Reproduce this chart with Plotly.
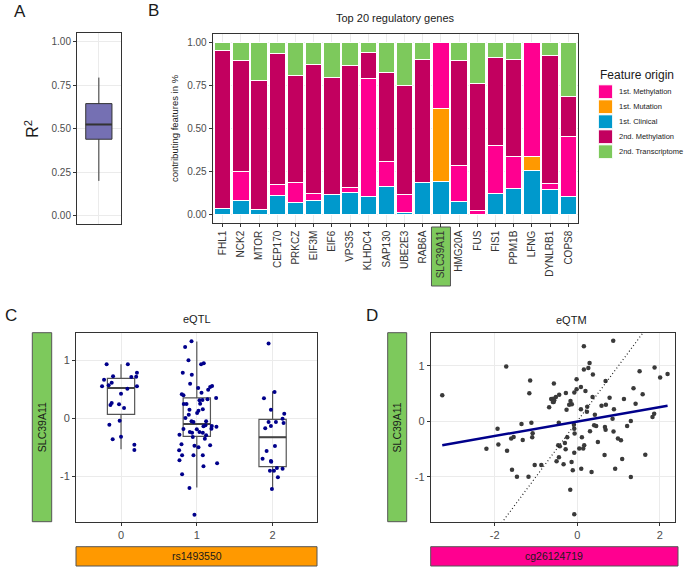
import plotly.graph_objects as go

FONT = "Liberation Sans, Arial, sans-serif"
W, H = 685, 569

# ---------------- Panel A data ----------------
r2_q1 = [0.44]
r2_median = [0.525]
r2_q3 = [0.645]
r2_lowerfence = [0.20]
r2_upperfence = [0.795]
r2_ticks = [0, 0.25, 0.5, 0.75, 1.0]
r2_ticklabels = ["0.00", "0.25", "0.50", "0.75", "1.00"]

# ---------------- Panel B data ----------------
genes = ["FHL1", "NCK2", "MTOR", "CEP170", "PRKCZ", "EIF3M", "EIF6", "VPS35", "KLHDC4", "SAP130",
         "UBE2E3", "RAB6A", "SLC39A11", "HMG20A", "FUS", "FIS1", "PPM1B", "LFNG", "DYNLRB1", "COPS8"]
clinical_1st = [0.035, 0.083, 0.029, 0.114, 0.070, 0.083, 0.116, 0.130, 0.110, 0.168,
                0.012, 0.186, 0.197, 0.081, 0.000, 0.124, 0.151, 0.261, 0.147, 0.108]
mutation_1st = [0, 0, 0, 0, 0, 0, 0, 0, 0, 0,
                0, 0, 0.422, 0, 0, 0, 0, 0.079, 0, 0]
methylation_1st = [0.000, 0.172, 0.000, 0.064, 0.120, 0.043, 0.000, 0.030, 0.683, 0.140,
                   0.104, 0.000, 0.381, 0.205, 0.025, 0.282, 0.187, 0.660, 0.035, 0.347]
methylation_2nd = [0.922, 0.642, 0.749, 0.758, 0.618, 0.746, 0.684, 0.710, 0.151, 0.522,
                   0.636, 0.719, 0.000, 0.611, 0.739, 0.511, 0.567, 0.000, 0.746, 0.235]
transcriptome_2nd = [0.043, 0.103, 0.222, 0.064, 0.192, 0.128, 0.200, 0.130, 0.056, 0.170,
                     0.248, 0.095, 0.000, 0.103, 0.236, 0.083, 0.095, 0.000, 0.072, 0.310]
highlight_gene = "SLC39A11"
legend_order = ["1st. Methylation", "1st. Mutation", "1st. Clinical", "2nd. Methylation", "2nd. Transcriptome"]

# ---------------- Panel C data (eQTL) ----------------
c_x = [-0.19, 0.09, 0.21, -0.105, 0.136, 0.20, -0.224, -0.123, -0.163, -0.25, 0.21, 0.084, 0.0,
       -0.123, -0.14, -0.026, 0.04, -0.018, -0.154, 0.0, -0.11, 0.176, 0.176,
       0.93, 0.846, 0.89, 0.815, 0.934, 0.912, 0.802, 0.824, 0.828, 0.864, 0.903, 0.894, 0.85,
       0.93, 0.956, 0.824, 0.908, 0.938, 0.771, 0.947, 0.798, 0.969, 0.767, 0.806, 0.956, 0.771,
       0.806, 0.903, 0.969,
       1.057, 1.092, 1.018, 1.062, 1.202, 1.176, 1.15, 1.255, 1.141, 1.035, 1.075, 1.044, 1.079,
       1.022, 1.004, 1.123, 1.088, 1.114, 1.198, 1.193, 1.259, 1.0, 1.035, 1.079, 1.123, 1.106,
       1.176, 1.022, 1.079, 1.088, 1.268,
       1.947, 2.026, 1.886, 1.978, 2.154, 2.132, 2.145, 1.947, 2.044, 1.978, 1.903, 2.031, 1.921,
       1.868, 1.978, 1.982, 2.057, 2.132, 1.965, 2.018, 2.07, 1.991]
c_y = [0.936, 0.936, 0.79, 0.728, 0.717, 0.72, 0.67, 0.618, 0.572, 0.555, 0.555, 0.514, 0.428,
       0.266, 0.231, 0.243, 0.179, -0.04, -0.11, -0.32, -0.364, -0.46, -0.55,
       1.335, 1.237, 1.006, 0.792, 0.757, 0.601, 0.416, 0.399, 0.249, 0.249, 0.150, 0.064, 0.006,
       -0.052, -0.064, -0.185, -0.237, -0.249, -0.283, -0.324, -0.451, -0.474, -0.555, -0.642,
       -0.642, -0.728, -0.971, -1.208, -1.671,
       0.936, 0.954, 0.526, 0.445, 0.561, 0.543, 0.497, 0.353, 0.329, 0.312, 0.318, 0.254, 0.156,
       0.133, 0.092, -0.052, -0.139, -0.121, -0.133, -0.179, -0.145, -0.191, -0.237, -0.249,
       -0.295, -0.353, -0.468, -0.503, -0.642, -0.832, -0.78,
       1.295, 0.457, 0.347, 0.150, 0.081, -0.006, -0.081, -0.064, -0.064, -0.133, -0.173, -0.48,
       -0.566, -0.699, -0.74, -0.751, -0.861, -0.873, -0.908, -0.908, -1.023, -1.225]
c_groups = [0, 1, 2]
c_q1 = [0.069, -0.312, -0.838]
c_median = [0.526, -0.098, -0.330]
c_q3 = [0.694, 0.353, -0.017]
c_lowerfence = [-0.538, -1.20, -1.228]
c_upperfence = [0.936, 1.33, 0.468]
c_xticks = [0, 1, 2]
c_xticklabels = ["0", "1", "2"]
c_yticks = [-1, 0, 1]
c_yticklabels = ["-1", "0", "1"]

# ---------------- Panel D data (eQTM) ----------------
d_x = [-3.27, -1.72, -1.14, -1.16, -0.565, -0.63, -0.57, -0.68, -1.93, -1.35, -1.11, -1.08, -1.09,
       -1.32, -1.60, -1.54, -2.2, -1.91, -1.70, -1.58, -1.46, -1.18, -1.03, -0.87,
       0.873, 0.162, 0.300, 0.27, 0.162, 0.38, 1.512, 1.875, 2.19, 2.01, -0.015, 0.688, 0.09,
       -0.015, -0.07, 0.2, -0.274, -0.436, -0.516, -0.58, -0.557, -0.589, -0.162, -0.194, -0.13,
       -0.258, 0.09, 0.243, 0.235, 0.372, 0.428, 0.785, 1.133, 1.364, 1.586, 1.415, 0.59, 0.695,
       0.89, 0.857, 1.3, 1.21, 1.865, 1.825, -0.446, -0.08, -0.071, -0.063, 0.114, 0.31, 0.41,
       0.46, 0.672, 0.688, 0.88, 0.987, 1.06, 0.501, -0.241, -0.298, -0.46, -0.28, -0.42, 0.17,
       0.146, 0.05, -0.071, -0.443, -0.5, -0.33, -0.136, -0.107, 0.098, 0.348, 0.663, 1.09, 1.65,
       0.92, 1.3, -0.168, -0.071]
d_y = [0.468, 0.985, 0.733, 0.505, 0.679, 0.402, 0.348, 0.252, -0.132, -0.048, -0.024, -0.216,
       -0.288, -0.336, -0.312, -0.282, -0.493, -0.42, -0.529, -0.871, -0.997, -0.997, -0.787,
       -0.787,
       1.453, 1.351, 1.051, 0.961, 0.931, 0.841, 0.901, 0.967, 0.853, 0.787, 0.757, 0.727, 0.619,
       0.577, 0.517, 0.547, 0.511, 0.48, 0.438, 0.408, 0.378, 0.348, 0.366, 0.300, 0.306, 0.210,
       0.216, 0.264, 0.174, 0.438, 0.12, 0.426, 0.402, 0.595, 0.486, 0.318, 0.282, 0.300, 0.216,
       0.048, 0.006, -0.084, 0.138, 0.078, -0.024, -0.06, -0.132, -0.222, -0.288, -0.18, -0.072,
       -0.084, -0.102, -0.15, -0.186, -0.312, -0.342, -0.372, -0.288, -0.39, -0.432, -0.505,
       -0.45, -0.432, -0.492, -0.492, -0.565, -0.649, -0.721, -0.775, -0.733, -0.883, -0.853,
       -0.913, -0.607, -0.679, -0.601, -0.853, -1.003, -1.231, -1.676]
d_fit_intercept = -0.005
d_fit_slope = 0.13
d_xrange = [-3.55, 2.37]
d_yrange = [-1.814, 1.596]
d_xticks = [-2, 0, 2]
d_xticklabels = ["-2", "0", "2"]
d_yticks = [-1, 0, 1]
d_yticklabels = ["-1", "0", "1"]

# ---------------- colours ----------------
COL_METH1 = "#FF0090"
COL_MUT = "#FF9900"
COL_CLIN = "#0099CC"
COL_METH2 = "#C2005F"
COL_TRANS = "#7DC95C"
TXT = "#1A1A1A"

# ---------------- layout geometry (pixels -> paper) ----------------
def PX(x):
    return x / W

def PY(y):
    return 1 - y / H

def px_x(a, b):
    return [PX(a), PX(b)]

def px_y(top, bottom):
    return [PY(bottom), PY(top)]

domA = (px_x(77, 120.7), px_y(33.3, 224.3))
domB = (px_x(212.7, 578.3), px_y(34.3, 222.7))
domC = (px_x(76, 317), px_y(332.7, 522))
domD = (px_x(430.7, 675), px_y(332.7, 522))

fig = go.Figure()

# Panel A box
fig.add_trace(go.Box(x=[0], q1=r2_q1, median=r2_median, q3=r2_q3,
                     lowerfence=r2_lowerfence, upperfence=r2_upperfence,
                     width=0.72, whiskerwidth=0, boxpoints=False,
                     fillcolor="#7570B3", line=dict(color="#333333", width=1),
                     xaxis="x", yaxis="y", showlegend=False, hoverinfo="skip"))
fig.add_trace(go.Scatter(x=[-0.36, 0.36], y=[r2_median[0]] * 2, mode="lines",
                         line=dict(color="#333333", width=2), xaxis="x", yaxis="y",
                         showlegend=False, hoverinfo="skip"))

# Panel B stacked bars (bottom to top)
series = [
    ("1st. Clinical", clinical_1st, COL_CLIN),
    ("1st. Mutation", mutation_1st, COL_MUT),
    ("1st. Methylation", methylation_1st, COL_METH1),
    ("2nd. Methylation", methylation_2nd, COL_METH2),
    ("2nd. Transcriptome", transcriptome_2nd, COL_TRANS),
]
for name, vals, col in series:
    fig.add_trace(go.Bar(x=genes, y=vals, name=name,
                         marker=dict(color=col, line=dict(color="white", width=1)),
                         xaxis="x2", yaxis="y2", showlegend=False))

# Panel C boxes + points
bw = 0.36
for g, q1, md, q3, lf, uf in zip(c_groups, c_q1, c_median, c_q3, c_lowerfence, c_upperfence):
    fig.add_trace(go.Box(x=[g], q1=[q1], median=[md], q3=[q3], lowerfence=[lf], upperfence=[uf],
                         width=bw, whiskerwidth=0, boxpoints=False, fillcolor="rgba(255,255,255,0)",
                         line=dict(color="#555555", width=1.2), xaxis="x3", yaxis="y3",
                         showlegend=False, hoverinfo="skip"))
    fig.add_trace(go.Scatter(x=[g - bw / 2, g + bw / 2], y=[md, md], mode="lines",
                             line=dict(color="#444444", width=2), xaxis="x3", yaxis="y3",
                             showlegend=False, hoverinfo="skip"))
fig.add_trace(go.Scatter(x=c_x, y=c_y, mode="markers", marker=dict(color="#00008B", size=4),
                         xaxis="x3", yaxis="y3", showlegend=False))

# Panel D scatter + fit + identity line
fig.add_trace(go.Scatter(x=d_x, y=d_y, mode="markers", marker=dict(color="#3A3A3A", size=4.5),
                         xaxis="x4", yaxis="y4", showlegend=False))
fig.add_trace(go.Scatter(x=d_xrange, y=d_xrange, mode="lines",
                         line=dict(color="#222222", width=1.2, dash="1px,2.5px"),
                         xaxis="x4", yaxis="y4", showlegend=False))
fit_x = [min(d_x), max(d_x)]
fit_y = [d_fit_intercept + d_fit_slope * v for v in fit_x]
fig.add_trace(go.Scatter(x=fit_x, y=fit_y, mode="lines", line=dict(color="#00008B", width=2.5),
                         xaxis="x4", yaxis="y4", showlegend=False))

axis_common = dict(showline=True, mirror=True, linecolor="#333333", linewidth=1,
                   gridcolor="#EBEBEB", gridwidth=1, zeroline=False, ticks="outside",
                   ticklen=3, tickcolor="#333333", tickfont=dict(family=FONT, size=10, color="#4D4D4D"))

def ax(**kw):
    d = dict(axis_common)
    d.update(kw)
    return d

n = len(genes)
xr2 = [-0.55, n - 0.45]
fig.update_layout(
    width=W, height=H, margin=dict(l=0, r=0, t=0, b=0),
    paper_bgcolor="white", plot_bgcolor="white",
    font=dict(family=FONT, color=TXT),
    barmode="stack", bargap=0.1, showlegend=False,
    xaxis=ax(domain=domA[0], anchor="y", range=[-0.6, 0.6], tickvals=[0], showticklabels=False, ticks=""),
    yaxis=ax(domain=domA[1], anchor="x", range=[-0.05, 1.05], tickvals=r2_ticks, ticktext=r2_ticklabels,
             title=dict(text="R<sup>2</sup>", font=dict(family=FONT, size=16, color=TXT), standoff=8)),
    xaxis2=ax(domain=domB[0], anchor="y2", range=xr2, tickangle=-90,
              tickfont=dict(family=FONT, size=10, color="#333333")),
    yaxis2=ax(domain=domB[1], anchor="x2", range=[-0.045, 1.049], tickvals=r2_ticks, ticktext=r2_ticklabels,
              title=dict(text="contributing features in %", font=dict(family=FONT, size=9.5, color=TXT),
                         standoff=6)),
    xaxis3=ax(domain=domC[0], anchor="y3", range=[-0.594, 2.586], tickvals=c_xticks, ticktext=c_xticklabels,
              tickfont=dict(family=FONT, size=11, color="#4D4D4D")),
    yaxis3=ax(domain=domC[1], anchor="x3", range=[-1.797, 1.484], tickvals=c_yticks, ticktext=c_yticklabels,
              tickfont=dict(family=FONT, size=11, color="#4D4D4D")),
    xaxis4=ax(domain=domD[0], anchor="y4", range=d_xrange, tickvals=d_xticks, ticktext=d_xticklabels,
              tickfont=dict(family=FONT, size=11, color="#4D4D4D")),
    yaxis4=ax(domain=domD[1], anchor="x4", range=d_yrange, tickvals=d_yticks, ticktext=d_yticklabels,
              tickfont=dict(family=FONT, size=11, color="#4D4D4D")),
)

# highlight box behind the SLC39A11 tick label (computed from category index)
idx = genes.index(highlight_gene)
cx = domB[0][0] + (idx - xr2[0]) / (xr2[1] - xr2[0]) * (domB[0][1] - domB[0][0])
fig.add_shape(type="rect", xref="paper", yref="paper", layer="below",
              x0=cx - PX(9.5), x1=cx + PX(9.5), y0=PY(286), y1=PY(227),
              fillcolor=COL_TRANS, line=dict(color="#555555", width=1))

# legend (drawn as keys + text, in ggplot order)
color_of = {name: col for name, _, col in series}
fig.add_annotation(text="Feature origin", xref="paper", yref="paper", x=PX(598), y=PY(74.5),
                   xanchor="left", yanchor="middle", showarrow=False,
                   font=dict(family=FONT, size=12, color=TXT))
for i, name in enumerate(legend_order):
    yc = 91.7 + 15 * i
    fig.add_shape(type="rect", xref="paper", yref="paper", x0=PX(598.5), x1=PX(612.5),
                  y0=PY(yc + 6.8), y1=PY(yc - 6.8), fillcolor=color_of[name],
                  line=dict(color="white", width=0.8))
    fig.add_annotation(text=name, xref="paper", yref="paper", x=PX(617), y=PY(yc),
                       xanchor="left", yanchor="middle", showarrow=False,
                       font=dict(family=FONT, size=7.5, color=TXT))

# panel letters
for t, x, y in [("A", 12, 12), ("B", 146, 11), ("C", 3, 315), ("D", 364, 315)]:
    fig.add_annotation(text=t, xref="paper", yref="paper", x=PX(x), y=PY(y), xanchor="left",
                       yanchor="middle", showarrow=False, font=dict(family=FONT, size=17, color=TXT))

for t, x, y in [("Top 20 regulatory genes", 395, 18), ("eQTL", 197, 319), ("eQTM", 571, 320)]:
    fig.add_annotation(text=t, xref="paper", yref="paper", x=PX(x), y=PY(y), xanchor="center",
                       yanchor="middle", showarrow=False, font=dict(family=FONT, size=11, color=TXT))

# coloured label boxes for C and D
def label_box(text, x0, x1, y0, y1, color, angle):
    fig.add_shape(type="rect", xref="paper", yref="paper", x0=PX(x0), x1=PX(x1), y0=PY(y1), y1=PY(y0),
                  fillcolor=color, line=dict(color="#555555", width=1))
    fig.add_annotation(text=text, xref="paper", yref="paper", x=PX((x0 + x1) / 2), y=PY((y0 + y1) / 2),
                       xanchor="center", yanchor="middle", showarrow=False, textangle=angle,
                       font=dict(family=FONT, size=10.5, color=TXT))

label_box("SLC39A11", 32.3, 51.7, 332.7, 521.7, COL_TRANS, -90)
label_box("rs1493550", 76, 317, 546.7, 566, COL_MUT, 0)
label_box("SLC39A11", 387.7, 406.7, 332.7, 521.7, COL_TRANS, -90)
label_box("cg26124719", 430.7, 678, 546.7, 566, COL_METH1, 0)

fig.write_html("out.html", config={"displayModeBar": False},
               post_script="document.body.style.margin='0px';")
